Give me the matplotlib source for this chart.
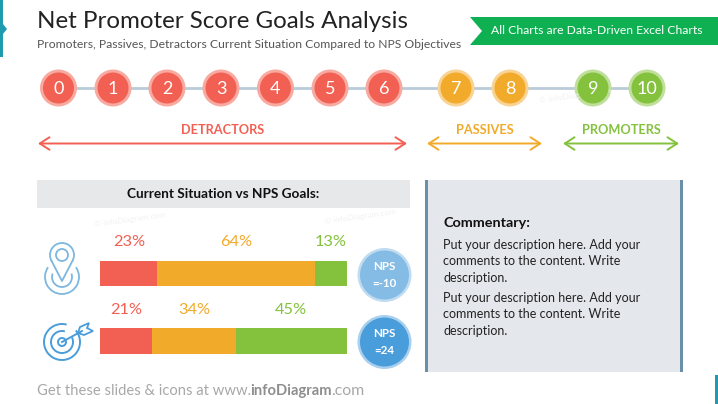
import matplotlib
matplotlib.use('Agg')
import matplotlib.pyplot as plt
from matplotlib.patches import Arc, Circle, Rectangle, Polygon, FancyArrowPatch

# Данные
scores = [0, 1, 2, 3, 4, 5, 6, 7, 8, 9, 10]
score_x = [58.5, 113, 167, 221, 275.5, 330, 384, 456, 510, 593, 647]
groups = ['DETRACTORS', 'PASSIVES', 'PROMOTERS']
current = [23, 64, 13]
goals = [21, 34, 45]
nps_labels = ['NPS\n=-10', 'NPS\n=24']

RED = '#f16052'
ORANGE = '#f2aa2b'
GREEN = '#84c13d'
RED_L = '#f8a9a0'
ORANGE_L = '#f9d394'
GREEN_L = '#bfdf9b'
colors = [RED, ORANGE, GREEN]

plt.rcParams['font.family'] = ['Lato', 'DejaVu Sans']

fig = plt.figure(figsize=(7.18, 4.04), dpi=100)
ax = fig.add_axes([0, 0, 1, 1])
ax.set_xlim(0, 718)
ax.set_ylim(404, 0)
ax.axis('off')

# Заголовок
ax.add_patch(Rectangle((0, 0), 3, 57, color='#1f9bb0', lw=0))
ax.add_patch(Polygon([(3, 24), (7, 29), (3, 34)], color='#1f9bb0', lw=0))
ax.text(37, 22, 'Net Promoter Score Goals Analysis', fontsize=17.4, color='#222222', va='center')
ax.text(37, 45, 'Promoters, Passives, Detractors Current Situation Compared to NPS Objectives',
        fontsize=8.7, color='#555555', va='center')
ax.add_patch(Polygon([(470, 17), (718, 17), (718, 45), (470, 45), (482, 31)], color='#0fb052', lw=0))
ax.text(491, 31, 'All Charts are Data-Driven Excel Charts', fontsize=8.7, color='white', va='center')

# Водяные знаки
for x, y, rot in [(130, 220, 8), (360, 217, 8), (575, 96, 8)]:
    ax.text(x, y, '© infoDiagram.com', fontsize=6, color='#f1f1f1', ha='center', va='center', rotation=rot)

# Шкала 0-10
ax.plot([58, 647], [88, 88], color='#b9ccd9', lw=2, zorder=1)
for s, x in zip(scores, score_x):
    if s <= 6:
        c, cl = RED, RED_L
    elif s <= 8:
        c, cl = ORANGE, ORANGE_L
    else:
        c, cl = GREEN, GREEN_L
    ax.add_patch(Circle((x, 88), 18.5, color=cl, lw=0, zorder=2))
    ax.add_patch(Circle((x, 88), 15.5, color=c, lw=0, zorder=3))
    ax.text(x, 88.5, str(s), fontsize=13, color='white', ha='center', va='center', zorder=4)

# Группы со стрелками
group_x = [(38, 407), (427, 542), (563, 679)]
for name, (x0, x1), c in zip(groups, group_x, colors):
    ax.text((x0 + x1) / 2, 130, name, fontsize=9.2, fontweight='bold', color=c, ha='center', va='center')
    ax.add_patch(FancyArrowPatch((x0, 143.5), (x1, 143.5), arrowstyle='<->,head_length=7,head_width=4.5',
                                 color=c, lw=1.4, shrinkA=0, shrinkB=0, mutation_scale=1))

# Левая панель
ax.add_patch(Rectangle((37, 180), 373, 28, color='#e7e8ea', lw=0))
ax.text(223.5, 194.5, 'Current Situation vs NPS Goals:', fontsize=9.85, fontweight='bold',
        color='#111111', ha='center', va='center')

# Полосы
bar_left = 100
bar_scale = 2.47
rows = [(current, 260.5, 25.5, 242), (goals, 328, 26, 310)]
label_x = [[129, 236, 331], [126, 194, 291]]
for (vals, top, h, ly), lx in zip(rows, label_x):
    left = 0
    for v, c, x in zip(vals, colors, lx):
        ax.barh(top + h / 2, v * bar_scale, height=h, left=bar_left + left * bar_scale, color=c, lw=0)
        ax.text(x, ly, f'{v}%', fontsize=11.8, color=c, ha='center', va='center')
        left += v

# Круги NPS
nps_y = [275, 342]
nps_fill = ['#85bce6', '#4a9ddb']
nps_edge = ['#c0dcf1', '#a9d0ee']
for lbl, y, c, e in zip(nps_labels, nps_y, nps_fill, nps_edge):
    ax.add_patch(Circle((384.5, y), 27, color=e, lw=0))
    ax.add_patch(Circle((384.5, y), 24.5, color=c, lw=0))
    ax.text(384.5, y, lbl, fontsize=8.4, fontweight='bold', color='white', ha='center', va='center',
            linespacing=1.6)

# Значок: метка
pin = '#7db7e0'
ax.add_patch(Arc((62, 255), 24, 24, theta1=150, theta2=30, ec=pin, lw=1.3))
ax.add_patch(Circle((62, 255), 6, fill=False, ec=pin, lw=1.3))
ax.plot([51.6, 62, 72.4], [261, 281, 261], color=pin, lw=1.3)
ax.add_patch(Arc((62, 277), 34, 34, theta1=325, theta2=215, ec=pin, lw=1.3))
ax.add_patch(Arc((62, 277), 20, 20, theta1=340, theta2=200, ec=pin, lw=1.3))

# Значок: мишень
tgt = '#4a9ddb'
ax.add_patch(Arc((62, 342), 36, 36, theta1=320, theta2=285, ec=tgt, lw=1.4))
ax.add_patch(Arc((62, 342), 22, 22, theta1=335, theta2=285, ec=tgt, lw=1.4))
ax.add_patch(Circle((62, 342), 4, fill=False, ec=tgt, lw=1.4))
ax.plot([62, 82], [342, 331], color=tgt, lw=1.4, zorder=2)
ax.add_patch(Polygon([(78, 333), (80, 327), (89, 323), (87, 328), (93, 331), (84, 335)],
                     fill=False, ec=tgt, lw=1.3, zorder=2))

# Комментарий
ax.add_patch(Rectangle((426, 180), 256, 192, color='#e4e7eb', lw=0))
ax.add_patch(Rectangle((425, 180), 2.5, 192, color='#6a8fa8', lw=0))
ax.add_patch(Rectangle((680, 180), 2.5, 192, color='#6a8fa8', lw=0))
ax.text(443, 223, 'Commentary:', fontsize=10.4, fontweight='bold', color='#111111', va='center')
comment = ['Put your description here. Add your', 'comments to the content. Write', 'description.']
for y0 in [245, 298]:
    for j, line in enumerate(comment):
        ax.text(443, y0 + j * 16.3, line, fontsize=9, color='#222222', va='center')

# Подпись
ax.text(37, 391, 'Get these slides & icons at www.', fontsize=10.6, color='#a8a8a8', va='center')
ax.text(250, 391, 'infoDiagram', fontsize=10.6, fontweight='bold', color='#8e8e8e', va='center')
ax.text(331, 391, '.com', fontsize=11.4, color='#a8a8a8', va='center')
ax.add_patch(Rectangle((715, 375), 3, 29, color='#1f9bb0', lw=0))

fig.savefig('out.png', dpi=100)
